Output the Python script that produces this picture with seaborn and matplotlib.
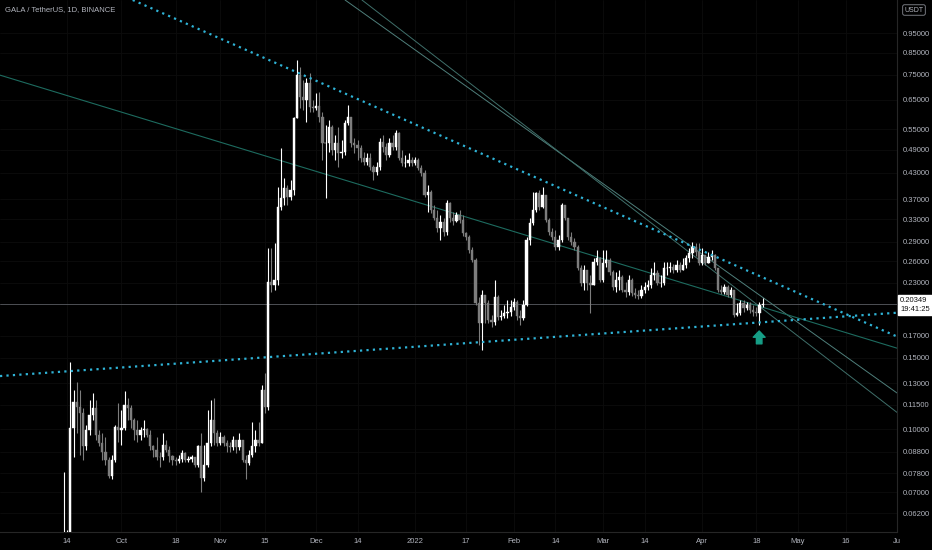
import matplotlib
matplotlib.use('Agg')
import matplotlib.pyplot as plt
import pandas as pd
import seaborn as sns
from matplotlib.ticker import NullLocator
from matplotlib import font_manager

# GALA / TetherUS daily candles, 2021-09-13 .. 2022-04-20
first_open = 0.045
close = [
    0.050, 0.054, 0.1009, 0.1170, 0.1137, 0.1099, 0.0907, 0.0998, 0.1087, 0.1131,
    0.0970, 0.0927, 0.0881, 0.0842, 0.0769, 0.0842, 0.1015, 0.0998, 0.1009, 0.1150,
    0.1131, 0.1056, 0.0998, 0.0970, 0.0998, 0.1004, 0.0970, 0.0907, 0.0891, 0.0856,
    0.0852, 0.0917, 0.0891, 0.0861, 0.0842, 0.0837, 0.0847, 0.0876, 0.0842, 0.0847,
    0.0852, 0.0818, 0.0907, 0.0760, 0.0818, 0.0927, 0.1056, 0.0981, 0.0927, 0.0959,
    0.0927, 0.0907, 0.0902, 0.0943, 0.0902, 0.0943, 0.0842, 0.0828, 0.0866, 0.0907,
    0.0943, 0.0927, 0.1252, 0.1137, 0.2311, 0.2272, 0.2337, 0.3537, 0.3723, 0.3940,
    0.3744, 0.3896, 0.5862, 0.7485, 0.6606, 0.6494, 0.7153, 0.6241, 0.6206, 0.6277,
    0.5896, 0.5087, 0.5087, 0.5571, 0.4889, 0.5087, 0.4806, 0.4834, 0.5699, 0.5896,
    0.5087, 0.5030, 0.4945, 0.4671, 0.4567, 0.4671, 0.4439, 0.4315, 0.4439, 0.5116,
    0.4973, 0.4752, 0.5087, 0.4973, 0.5385, 0.4671, 0.4541, 0.4541, 0.4619, 0.4541,
    0.4619, 0.4414, 0.4290, 0.3787, 0.3852, 0.3478, 0.3323, 0.3140, 0.3249, 0.3069,
    0.3619, 0.3323, 0.3267, 0.3380, 0.3286, 0.3052, 0.2983, 0.2771, 0.2618, 0.2051,
    0.1832, 0.2147, 0.2051, 0.1863, 0.1842, 0.2123, 0.1894, 0.1905, 0.1938, 0.1949,
    0.2005, 0.2063, 0.1905, 0.1884, 0.2028, 0.2933, 0.3231, 0.3478, 0.3830, 0.3537,
    0.3787, 0.3286, 0.3069, 0.2983, 0.2819, 0.2933, 0.3578, 0.3323, 0.2983, 0.2900,
    0.2819, 0.2502, 0.2298, 0.2474, 0.2298, 0.2272, 0.2589, 0.2648, 0.2337, 0.2574,
    0.2618, 0.2446, 0.2246, 0.2337, 0.2378, 0.2208, 0.2183, 0.2337, 0.2171, 0.2147,
    0.2135, 0.2208, 0.2246, 0.2272, 0.2405, 0.2433, 0.2298, 0.2298, 0.2502, 0.2502,
    0.2517, 0.2474, 0.2545, 0.2474, 0.2545, 0.2648, 0.2725, 0.2819, 0.2740, 0.2574,
    0.2694, 0.2574, 0.2663, 0.2694, 0.2502, 0.2208, 0.2183, 0.2246, 0.2147, 0.2208,
    0.1916, 0.1938, 0.2051, 0.1994, 0.2028, 0.1971, 0.1949, 0.1938, 0.2028, 0.20349,
]
high = [
    0.0786, 0.0565, 0.1468, 0.1252, 0.1310, 0.1252, 0.1131, 0.1027, 0.1183, 0.1231,
    0.1183, 0.0998, 0.0981, 0.0959, 0.0852, 0.0866, 0.1027, 0.1163, 0.1118, 0.1245,
    0.1196, 0.1150, 0.1068, 0.1056, 0.1015, 0.1056, 0.1009, 0.0998, 0.0917, 0.0959,
    0.0881, 0.0981, 0.0943, 0.0907, 0.0866, 0.0856, 0.0866, 0.0891, 0.0881, 0.0861,
    0.0866, 0.0856, 0.0917, 0.0981, 0.0917, 0.1118, 0.1183, 0.1196, 0.0998, 0.0987,
    0.0970, 0.0943, 0.0932, 0.0965, 0.0943, 0.0981, 0.0943, 0.0866, 0.0891, 0.1044,
    0.0998, 0.1044, 0.1288, 0.1380, 0.2803, 0.2803, 0.2883, 0.3963, 0.4945, 0.4171,
    0.4008, 0.4124, 0.5896, 0.8150, 0.7834, 0.7275, 0.7358, 0.7570, 0.6494, 0.6757,
    0.6795, 0.6067, 0.5635, 0.5797, 0.5635, 0.5324, 0.5571, 0.5175, 0.5797, 0.6313,
    0.5896, 0.5234, 0.5175, 0.5030, 0.4834, 0.4806, 0.4806, 0.4490, 0.4567, 0.5234,
    0.5324, 0.5087, 0.5234, 0.5324, 0.5477, 0.5415, 0.4889, 0.4752, 0.4806, 0.4698,
    0.4698, 0.4671, 0.4490, 0.4364, 0.4008, 0.3896, 0.3578, 0.3478, 0.3380, 0.3323,
    0.3681, 0.3640, 0.3438, 0.3438, 0.3478, 0.3380, 0.3069, 0.3017, 0.2819, 0.2648,
    0.2123, 0.2208, 0.2147, 0.2087, 0.1916, 0.2337, 0.2147, 0.1971, 0.2028, 0.2087,
    0.2087, 0.2111, 0.2087, 0.1971, 0.2087, 0.2983, 0.3323, 0.3852, 0.3852, 0.3896,
    0.3963, 0.3787, 0.3323, 0.3140, 0.3104, 0.3017, 0.3619, 0.3578, 0.3323, 0.3069,
    0.2966, 0.2851, 0.2545, 0.2545, 0.2474, 0.2405, 0.2648, 0.2771, 0.2663, 0.2771,
    0.2771, 0.2648, 0.2474, 0.2446, 0.2474, 0.2405, 0.2311, 0.2405, 0.2364, 0.2233,
    0.2208, 0.2272, 0.2311, 0.2337, 0.2502, 0.2589, 0.2474, 0.2405, 0.2589, 0.2589,
    0.2589, 0.2560, 0.2618, 0.2589, 0.2648, 0.2694, 0.2803, 0.2900, 0.2883, 0.2883,
    0.2803, 0.2694, 0.2740, 0.2771, 0.2709, 0.2502, 0.2272, 0.2285, 0.2272, 0.2246,
    0.2208, 0.2051, 0.2087, 0.2087, 0.2063, 0.2063, 0.2028, 0.2005, 0.2063, 0.2111,
]
low = [
    0.0400, 0.0490, 0.0520, 0.0856, 0.0981, 0.0866, 0.0842, 0.0891, 0.0970, 0.1056,
    0.0943, 0.0907, 0.0842, 0.0818, 0.0760, 0.0756, 0.0832, 0.0932, 0.0917, 0.0998,
    0.1056, 0.1009, 0.0943, 0.0932, 0.0943, 0.0959, 0.0959, 0.0891, 0.0852, 0.0842,
    0.0809, 0.0842, 0.0881, 0.0832, 0.0818, 0.0818, 0.0828, 0.0832, 0.0832, 0.0832,
    0.0832, 0.0809, 0.0809, 0.0702, 0.0744, 0.0809, 0.0907, 0.0917, 0.0907, 0.0917,
    0.0907, 0.0881, 0.0881, 0.0891, 0.0876, 0.0891, 0.0832, 0.0752, 0.0818, 0.0852,
    0.0881, 0.0907, 0.0927, 0.1099, 0.1118, 0.2183, 0.2208, 0.2272, 0.3478, 0.3578,
    0.3578, 0.3681, 0.3787, 0.5862, 0.6206, 0.6136, 0.5732, 0.6067, 0.6067, 0.6136,
    0.5732, 0.4619, 0.3723, 0.4834, 0.4752, 0.4619, 0.4439, 0.4671, 0.4752, 0.5635,
    0.4973, 0.4806, 0.4619, 0.4567, 0.4490, 0.4490, 0.4364, 0.4124, 0.4242, 0.4364,
    0.4834, 0.4619, 0.4698, 0.4889, 0.4889, 0.4619, 0.4464, 0.4439, 0.4464, 0.4464,
    0.4490, 0.4364, 0.4218, 0.3744, 0.3438, 0.3419, 0.3286, 0.3069, 0.2933, 0.3000,
    0.3017, 0.3249, 0.3194, 0.3249, 0.3231, 0.3000, 0.2933, 0.2724, 0.2589, 0.2028,
    0.1616, 0.1571, 0.1832, 0.1832, 0.1790, 0.1811, 0.1863, 0.1863, 0.1884, 0.1884,
    0.1905, 0.1971, 0.1863, 0.1811, 0.1863, 0.2017, 0.2851, 0.3194, 0.3438, 0.3478,
    0.3517, 0.3249, 0.3017, 0.2933, 0.2771, 0.2771, 0.2900, 0.3286, 0.2933, 0.2851,
    0.2771, 0.2474, 0.2259, 0.2208, 0.2208, 0.1938, 0.2272, 0.2545, 0.2311, 0.2311,
    0.2517, 0.2405, 0.2208, 0.2183, 0.2208, 0.2183, 0.2123, 0.2147, 0.2135, 0.2111,
    0.2099, 0.2111, 0.2171, 0.2208, 0.2233, 0.2337, 0.2272, 0.2246, 0.2272, 0.2405,
    0.2446, 0.2433, 0.2446, 0.2446, 0.2474, 0.2502, 0.2589, 0.2648, 0.2678, 0.2545,
    0.2545, 0.2545, 0.2574, 0.2618, 0.2474, 0.2183, 0.2159, 0.2159, 0.2123, 0.2123,
    0.1894, 0.1905, 0.1916, 0.1949, 0.1971, 0.1938, 0.1905, 0.1905, 0.1811, 0.2005,
]

# x axis: day index counted from 2021-09-13
date_ticks = [1, 18, 35, 49, 63, 79, 92, 110, 126, 141, 154, 169, 182, 200, 217, 230, 245, 261]
date_labels = ['14', 'Oct', '18', 'Nov', '15', 'Dec', '14', '2022', '17', 'Feb',
               '14', 'Mar', '14', 'Apr', '18', 'May', '16', 'Ju']
price_ticks = [0.95, 0.85, 0.75, 0.65, 0.55, 0.49, 0.43, 0.37, 0.33, 0.29, 0.26, 0.23,
               0.17, 0.15, 0.13, 0.115, 0.10, 0.088, 0.078, 0.070, 0.062]
last_price = 0.20349

# drawn trend lines, two points each (day index, price)
upper_dotted = [(74.0, 0.754), (259.9, 0.171)]
lower_dotted = [(-20.1, 0.1353), (259.9, 0.1936)]
teal_line = [(-20.1, 0.748), (259.9, 0.1596)]
thin_a = [(88.1, 1.146), (261.1, 0.1229)]
thin_b = [(93.4, 1.146), (258.9, 0.1135)]
signal_arrow = (217.9, 0.1625, 0.1748)

UP = '#ffffff'
DOWN = '#7d7d7d'
TXT = '#b2b5be'

sns.set_theme(style='dark', rc={'axes.facecolor': 'black', 'figure.facecolor': 'black'})
names = {f.name for f in font_manager.fontManager.ttflist}
narrow = 'Liberation Sans Narrow' if 'Liberation Sans Narrow' in names else 'Liberation Sans'
plt.rcParams['font.family'] = [narrow, 'DejaVu Sans']
FS = 6.2 if narrow == 'Liberation Sans Narrow' else 5.5

df = pd.DataFrame({'close': close, 'high': high, 'low': low})
df['open'] = [first_open] + close[:-1]
df['day'] = range(len(df))
df['date'] = pd.date_range('2021-09-13', periods=len(df), freq='D')
df['up'] = df['close'] >= df['open']
df['color'] = df['up'].map({True: UP, False: DOWN})

fig = plt.figure(figsize=(9.32, 5.5), dpi=100)
ax = fig.add_axes([0, 18 / 550, 897 / 932, 532 / 550])
ax.set_facecolor('black')

# candles
ax.vlines(df['day'], df['low'], df['high'], colors=df['color'], lw=0.8, zorder=3)
body_lo = df[['open', 'close']].min(axis=1)
body_hi = df[['open', 'close']].max(axis=1)
ax.bar(df['day'], body_hi - body_lo, bottom=body_lo, width=0.7,
       color=df['color'], edgecolor=df['color'], lw=0.3, zorder=4)

# trend lines
ax.axline(*thin_a, color='#4f7f7b', lw=0.7, zorder=2)
ax.axline(*thin_b, color='#3f6f6a', lw=0.7, zorder=2)
ax.axline(*teal_line, color='#1d6b5f', lw=0.8, zorder=2)
ax.axline(*upper_dotted, color='#2fb3d6', lw=1.6, ls=(0, (1, 1.9)), zorder=5)
ax.axline(*lower_dotted, color='#2fb3d6', lw=1.6, ls=(0, (1, 1.9)), zorder=5)
ax.axhline(last_price, color='#5a5d63', lw=0.6, zorder=1)

ax.annotate('', xy=(signal_arrow[0], signal_arrow[2]), xytext=(signal_arrow[0], signal_arrow[1]),
            arrowprops=dict(width=4, headwidth=8.5, headlength=4.5, color='#169e86', shrink=0),
            zorder=6)

ax.set_yscale('log')
ax.set_ylim(0.05579, 1.1461)
ax.set_xlim(-20.06, 261.1)

ax.yaxis.tick_right()
ax.set_yticks(price_ticks)
ax.set_yticklabels([f'{t:.5f}' for t in price_ticks])
ax.yaxis.set_minor_locator(NullLocator())
ax.set_xticks(date_ticks)
ax.set_xticklabels(date_labels)
ax.tick_params(axis='y', length=0, pad=4, labelsize=FS, labelcolor=TXT)
ax.tick_params(axis='x', length=0, pad=4, labelsize=FS, labelcolor=TXT)
ax.grid(True, color='#0c0c0c', lw=0.6)
ax.set_xlabel('')
ax.set_ylabel('')
for side in ['left', 'top']:
    ax.spines[side].set_visible(False)
for side in ['right', 'bottom']:
    ax.spines[side].set_visible(True)
    ax.spines[side].set_color('#262626')
    ax.spines[side].set_linewidth(0.8)

fig.text(5 / 932, 1 - 10 / 550, 'GALA / TetherUS, 1D, BINANCE', fontsize=FS,
         color=TXT, va='center', ha='left')
fig.text(914 / 932, 1 - 10 / 550, 'USDT', fontsize=FS - 0.5, color=TXT, va='center', ha='center',
         bbox=dict(facecolor='black', edgecolor='#8a8d95', boxstyle='round,pad=0.25', lw=0.6))
fig.text(900 / 932, 1 - 297 / 550, f'{last_price:.5f}\n19:41:25', fontsize=FS, color='#111111',
         va='top', ha='left', linespacing=1.4,
         bbox=dict(facecolor='white', edgecolor='white', boxstyle='square,pad=0.3'))

fig.savefig('out.png', dpi=100, facecolor='black')
